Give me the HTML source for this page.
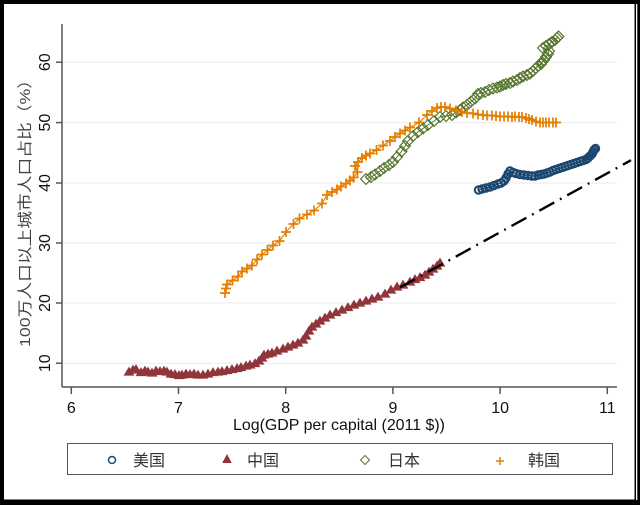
<!DOCTYPE html>
<html><head><meta charset="utf-8"><style>
html,body{margin:0;padding:0;background:#000;}
svg{display:block;}
text{font-family:"Liberation Sans","Noto Sans CJK SC",sans-serif;}
</style></head><body>
<svg width="640" height="505" viewBox="0 0 640 505" xmlns="http://www.w3.org/2000/svg">
<defs>
<marker id="mc" markerUnits="userSpaceOnUse" markerWidth="14" markerHeight="14" refX="7" refY="7" overflow="visible"><circle cx="7" cy="7" r="3.7" fill="none" stroke="#1a476f" stroke-width="2"/></marker>
<marker id="mt" markerUnits="userSpaceOnUse" markerWidth="14" markerHeight="14" refX="7" refY="7" overflow="visible"><polygon points="7,1.6 12.4,10.6 1.6,10.6" fill="#90353b"/></marker>
<marker id="md" markerUnits="userSpaceOnUse" markerWidth="14" markerHeight="14" refX="7" refY="7" overflow="visible"><polygon points="7,1.6 12.4,7 7,12.4 1.6,7" fill="none" stroke="#55752f" stroke-width="1.2"/></marker>
<marker id="mp" markerUnits="userSpaceOnUse" markerWidth="14" markerHeight="14" refX="7" refY="7" overflow="visible"><path d="M2 7H12M7 2V12" stroke="#e37e00" stroke-width="1.7"/></marker>
</defs>
<rect width="640" height="505" fill="#000"/>
<rect x="4" y="4" width="630.5" height="495.5" fill="#fff"/>
<rect x="636" y="4" width="1.3" height="496" fill="#fff"/>

<!-- gridlines -->
<g stroke="#ebebeb" stroke-width="1">
<line x1="62" y1="363.2" x2="617" y2="363.2"/>
<line x1="62" y1="303" x2="617" y2="303"/>
<line x1="62" y1="243" x2="617" y2="243"/>
<line x1="62" y1="183" x2="617" y2="183"/>
<line x1="62" y1="122.6" x2="617" y2="122.6"/>
<line x1="62" y1="62.2" x2="617" y2="62.2"/>
</g>

<!-- axes -->
<g stroke="#555" stroke-width="1.5">
<line x1="62" y1="24" x2="62" y2="387"/>
<line x1="62" y1="387" x2="617" y2="387"/>
<line x1="56" y1="363.2" x2="62" y2="363.2"/>
<line x1="56" y1="303" x2="62" y2="303"/>
<line x1="56" y1="243" x2="62" y2="243"/>
<line x1="56" y1="183" x2="62" y2="183"/>
<line x1="56" y1="122.6" x2="62" y2="122.6"/>
<line x1="56" y1="62.2" x2="62" y2="62.2"/>
<line x1="71.3" y1="387" x2="71.3" y2="394"/>
<line x1="178.5" y1="387" x2="178.5" y2="394"/>
<line x1="285.7" y1="387" x2="285.7" y2="394"/>
<line x1="392.9" y1="387" x2="392.9" y2="394"/>
<line x1="500.1" y1="387" x2="500.1" y2="394"/>
<line x1="607.3" y1="387" x2="607.3" y2="394"/>
</g>

<!-- y tick labels -->
<g font-size="16" fill="#111" text-anchor="middle">
<text transform="translate(50,363.2) rotate(-90)">10</text>
<text transform="translate(50,303) rotate(-90)">20</text>
<text transform="translate(50,243) rotate(-90)">30</text>
<text transform="translate(50,183) rotate(-90)">40</text>
<text transform="translate(50,122.6) rotate(-90)">50</text>
<text transform="translate(50,62.2) rotate(-90)">60</text>
</g>
<!-- x tick labels -->
<g font-size="16" fill="#111" text-anchor="middle">
<text x="71.3" y="413">6</text>
<text x="178.5" y="413">7</text>
<text x="285.7" y="413">8</text>
<text x="392.9" y="413">9</text>
<text x="500.1" y="413">10</text>
<text x="607.3" y="413">11</text>
</g>
<text x="339" y="430" font-size="16" fill="#111" text-anchor="middle" textLength="212" lengthAdjust="spacingAndGlyphs">Log(GDP per capital (2011 $))</text>
<text transform="translate(30,209) rotate(-90)" font-size="15" fill="#444" text-anchor="middle" textLength="276" lengthAdjust="spacingAndGlyphs">100万人口以上城市人口占比（%）</text>

<!-- USA -->
<polyline fill="none" stroke="#1a476f" stroke-width="1.2" marker-start="url(#mc)" marker-mid="url(#mc)" marker-end="url(#mc)" points="478.5,190 482,189 486,188 490,187 494,185.5 498,184 501,183 504,181 506,178 508,174 510,171 513,172.5 516,173.5 520,174.5 524,175 528,175.5 532,176 535,176 538,175 541,174.5 544,174 547,173 550,172 553,170.5 556,169.5 559,168.5 562,167.5 565,166.5 568,165.5 571,164.5 574,163.5 577,162.5 580,161.5 583,160.5 586,159.5 588,158 590,156 592,154 593,152 594,150 595.5,148.5"/>

<!-- China -->
<polyline fill="none" stroke="#90353b" stroke-width="1" marker-start="url(#mt)" marker-mid="url(#mt)" marker-end="url(#mt)" points="129,372 133,370 136,369.5 141,372.5 145,371 148,372 152,373 156,371 160,371.5 164,371 167,372 171,374 175,374.5 179,375.5 182,375 186,374 190,374.5 194,374 198,375 203,375 208,374 213,372.5 218,372 222,371.5 227,370.5 232,369.5 237,368.5 241,367.5 246,366 250,365 255,363.5 259,361 262,358 264,355 268,354 272,353 277,351 283,349 288,347 293,345 298,343 303,340 306,336 309,331 312,327 316,324 320,321 325,318 330,315 336,312.5 342,310 348,307.5 354,305 360,303 366,301 372,299 378,297 385,294 391,290 397,287 403,285 410,282 415,279.5 420,277.5 425,275 429,272 433,269 437,266 440,263"/>

<!-- Japan -->
<polyline fill="none" stroke="#55752f" stroke-width="1" marker-start="url(#md)" marker-mid="url(#md)" marker-end="url(#md)" points="366,179 371,177 375,174.5 380,171 384,168 389,165 393,162 397,157 401.5,151.5 405,146 408,141 413,136 418,132 423,128.5 428,125 434,121 440,117 446,116 452,115 456,112.5 460,110 463,107.5 467,105 471,101.5 475,98.5 478,94 481,93 485,92 489,90 493,88.5 497,87.5 500,86.5 503,85 506,84 510,83 513,81.5 517,80 520,78 523,76.5 527,75 530,73.5 533,71 536,68 538,66 541,64 542,62 544,60 546,57 548,54 549,51 543,48 546,46 549,44 552,42 555,40 557,38 558.5,36.5"/>

<!-- Korea -->
<polyline fill="none" stroke="#e37e00" stroke-width="1.1" marker-start="url(#mp)" marker-mid="url(#mp)" marker-end="url(#mp)" points="225,293 226,288.5 227,284.5 232.5,280.5 238,276.5 242,271.5 247,268.5 252,265.5 257,259.5 262,254.5 267.5,250 273,245.5 279.5,241 286,232 293.5,224 299.5,218.5 307,214.5 314,210.5 322,203.5 327,195 332,192 337,189.5 341,186.5 346,183.5 350,180.5 353.5,177.5 357.5,172 355,166 358,162 362,158 366,155.5 370,153.5 376.5,150 383,145.5 390,141 395,137 400,133.5 405,130.5 410,127.5 419,122.5 427,115 432,111 437,108 441,107 445,107 450,108.5 456,110.5 462,112 467,113 473,113.5 478,114.5 483,115 487,115.5 492,115.5 496,116 500,116.5 504,116.5 508,116.5 512,117 515,116.5 519,117 522,117 526,118 529,119 532,120 536,121.5 540,122.5 543,122.5 546,122.5 549,122.5 553,122.5 556,122.5"/>

<!-- dash-dot line -->
<line x1="398.3" y1="288.3" x2="631" y2="160.2" stroke="#000" stroke-width="2.4" stroke-dasharray="17 6.5 1.8 6.5" stroke-dashoffset="29.8"/>

<!-- legend -->
<rect x="67.5" y="443.5" width="545" height="31" fill="#fff" stroke="#555" stroke-width="1"/>
<circle cx="112" cy="460" r="3.5" fill="none" stroke="#1a476f" stroke-width="1.5"/>
<polygon points="227,454 231.8,463 222.2,463" fill="#90353b"/>
<polygon points="365,455.5 369.5,460 365,464.5 360.5,460" fill="none" stroke="#55752f" stroke-width="1"/>
<path d="M496 461H504M500 457V465" stroke="#e37e00" stroke-width="1.5"/>
<g font-size="16" fill="#333">
<text x="133" y="466">美国</text>
<text x="247" y="466">中国</text>
<text x="388" y="466">日本</text>
<text x="528" y="466">韩国</text>
</g>
</svg>
</body></html>
